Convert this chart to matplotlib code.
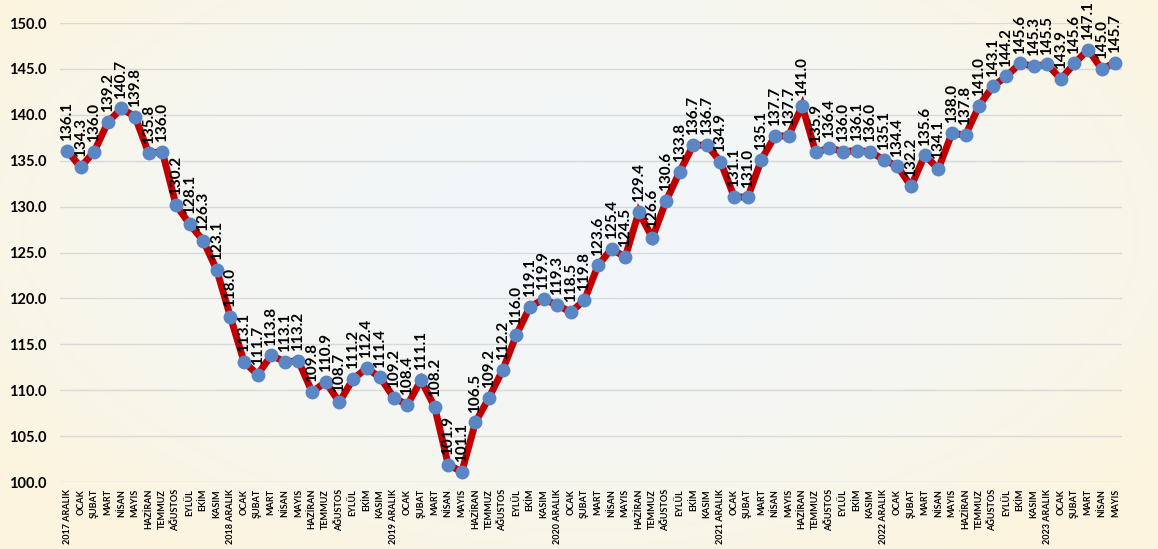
import numpy as np
import matplotlib
matplotlib.use("Agg")
import matplotlib.pyplot as plt
from matplotlib.colors import LinearSegmentedColormap

months = ["OCAK", "ŞUBAT", "MART", "NİSAN", "MAYIS", "HAZİRAN", "TEMMUZ",
          "AĞUSTOS", "EYLÜL", "EKİM", "KASIM"]
years = ["2017", "2018", "2019", "2020", "2021", "2022"]

labels = []
for y in years:
    labels.append(f"{y} ARALIK")
    labels.extend(months)
labels.append("2023 ARALIK")
labels.extend(months[:5])

values = [
    136.1, 134.3, 136.0, 139.2, 140.7, 139.8, 135.8, 136.0, 130.2, 128.1, 126.3, 123.1,
    118.0, 113.1, 111.7, 113.8, 113.1, 113.2, 109.8, 110.9, 108.7, 111.2, 112.4, 111.4,
    109.2, 108.4, 111.1, 108.2, 101.9, 101.1, 106.5, 109.2, 112.2, 116.0, 119.1, 119.9,
    119.3, 118.5, 119.8, 123.6, 125.4, 124.5, 129.4, 126.6, 130.6, 133.8, 136.7, 136.7,
    134.9, 131.1, 131.0, 135.1, 137.7, 137.7, 141.0, 135.9, 136.4, 136.0, 136.1, 136.0,
    135.1, 134.4, 132.2, 135.6, 134.1, 138.0, 137.8, 141.0, 143.1, 144.2, 145.6, 145.3,
    145.5, 143.9, 145.6, 147.1, 145.0, 145.7,
]

yticks = [100, 105, 110, 115, 120, 125, 130, 135, 140, 145, 150]

plt.rcParams['font.family'] = ['Lato', 'DejaVu Sans']

fig = plt.figure(figsize=(11.58, 5.49), dpi=100)

# soft background: light blue-white centre fading to cream at the edges
bg = fig.add_axes([0, 0, 1, 1], zorder=-10)
gx, gy = np.meshgrid(np.linspace(-1, 1, 400), np.linspace(-1, 1, 200))
r = np.sqrt((gx * 0.9) ** 2 + ((gy + 0.15) * 0.8) ** 2)
cmap = LinearSegmentedColormap.from_list("bg", ["#f2f6f9", "#f6f7f2", "#fcf4df"])
bg.imshow(r, cmap=cmap, aspect="auto", extent=[0, 1, 0, 1], vmin=0.2, vmax=1.1)
bg.axis("off")

ax = fig.add_axes([0.052, 0.122, 0.917, 0.836])
ax.patch.set_alpha(0)

x = np.arange(len(values))
ax.plot(x, values, color="#c00000", lw=5, zorder=3, solid_joinstyle="miter")
ax.plot(x, values, "o", color="#5b86c4", ms=9, zorder=4)

for xi, v in zip(x, values):
    ax.annotate(f"{v:.1f}", (xi, v), xytext=(0, 7), textcoords="offset points",
                rotation=90, ha="center", va="bottom", fontsize=11,
                fontweight="bold", clip_on=False, zorder=5)

ax.set_xlim(-0.5, len(values) - 0.5)
ax.set_ylim(100, 150)
ax.set_yticks(yticks)
ax.set_yticklabels([f"{t:.1f}" for t in yticks], fontsize=10.5, fontweight="bold")
ax.set_xticks(x)
ax.set_xticklabels(labels, rotation=90, fontsize=6.5, fontweight="bold")
ax.tick_params(axis="both", length=0)
ax.tick_params(axis="x", pad=5)
ax.tick_params(axis="y", pad=10)
ax.grid(axis="y", color="#d9d9d9", lw=1)
ax.set_axisbelow(True)
for s in ax.spines.values():
    s.set_visible(False)

fig.savefig("out.png", dpi=100)
